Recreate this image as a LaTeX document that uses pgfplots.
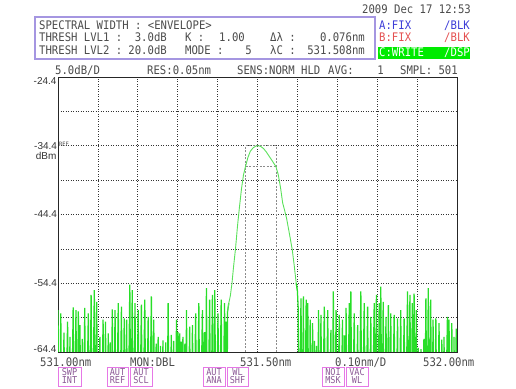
\documentclass[border=0pt]{standalone}
\usepackage{pgfplots}
\pgfplotsset{compat=1.18}
\usepackage{fontspec}
\setmainfont{DejaVu Sans Mono}
\newfontfamily\mono[FakeStretch=0.9]{DejaVu Sans Mono}
\newfontfamily\lab{Liberation Sans}
\definecolor{trace}{RGB}{40,222,40}
\definecolor{peakc}{RGB}{90,225,90}
\definecolor{boxc}{RGB}{165,150,225}
\definecolor{txt}{RGB}{75,75,75}
\definecolor{bluec}{RGB}{60,60,215}
\definecolor{redc}{RGB}{228,80,80}
\definecolor{greenbar}{RGB}{0,235,0}
\definecolor{btnc}{RGB}{230,120,230}
\definecolor{btntext}{RGB}{140,90,150}
\newcommand\hdr{\fontsize{11.8}{12}\selectfont\mono}
\newcommand\labf{\fontsize{10}{10}\selectfont\lab}
\newcommand\btnf{\fontsize{9.5}{9.5}\selectfont\mono}
\newcommand\btn[4]{%
  \draw[btnc, line width=0.9pt, fill=white] (#1,2) rectangle (#2,21);
  \node[font=\btnf, text=btntext, anchor=base, inner sep=0pt] at ({(#1+#2)/2},13) {#3};
  \node[font=\btnf, text=btntext, anchor=base, inner sep=0pt] at ({(#1+#2)/2},4.5) {#4};}
\begin{document}
\begin{tikzpicture}[x=1pt,y=1pt]
\useasboundingbox (0,0) rectangle (516,388);
\begin{axis}[
  at={(58pt,36pt)}, anchor=south west,
  width=399pt, height=275pt, scale only axis,
  xmin=531, xmax=532, ymin=-64.4, ymax=-24.4,
  xtick={531.1,531.2,531.3,531.4,531.5,531.6,531.7,531.8,531.9},
  xticklabels={},
  ytick={-64.4,-59.4,-54.4,-49.4,-44.4,-39.4,-34.4,-29.4,-24.4},
  yticklabels={,,-54.4,,-44.4,,-34.4,,},
  yticklabel style={font=\labf, text=black!80, inner sep=0.8pt},
  major tick length=0pt,
  grid=major,
  major grid style={black!80, line width=0.7pt, dash pattern=on 0.8pt off 1.7pt},
  axis line style={black!85, line width=0.8pt},
  clip=true,
]
% marker lines (-3 dB envelope)
\addplot[black!45, line width=0.7pt, dash pattern=on 2pt off 1.5pt] coordinates {
  (531.470,-64.4) (531.470,-34.4) (531.546,-34.4) (531.546,-64.4)};
\addplot[black!45, line width=0.7pt, dash pattern=on 2pt off 1.5pt] coordinates {
  (531.470,-37.4) (531.546,-37.4)};
% trace C: noise, left part
\addplot[trace, line width=1.25pt] coordinates {
(531.000,-58.3) (531.003,-80) (531.007,-58.8) (531.010,-80) (531.015,-61.6) (531.018,-80)
(531.024,-60.0) (531.027,-80) (531.030,-62.2) (531.033,-80) (531.038,-57.9) (531.041,-80)
(531.045,-58.3) (531.048,-80) (531.051,-58.5) (531.053,-80) (531.055,-60.5) (531.058,-80)
(531.061,-62.5) (531.064,-80) (531.067,-58.0) (531.070,-80) (531.076,-58.8) (531.079,-80)
(531.083,-56.1) (531.086,-80) (531.091,-55.4) (531.094,-80) (531.097,-57.1) (531.100,-80)
(531.105,-62.2) (531.108,-80) (531.113,-59.7) (531.116,-80) (531.119,-60.0) (531.122,-80)
(531.126,-61.7) (531.129,-80) (531.131,-63.0) (531.133,-80) (531.136,-58.2) (531.139,-80)
(531.143,-58.3) (531.146,-80) (531.151,-57.3) (531.154,-80) (531.159,-57.8) (531.162,-80)
(531.166,-59.5) (531.169,-80) (531.172,-59.7) (531.175,-80) (531.180,-54.6) (531.183,-80)
(531.186,-55.4) (531.189,-80) (531.193,-57.3) (531.196,-80) (531.201,-58.3) (531.204,-80)
(531.209,-57.5) (531.212,-80) (531.2175,-56.8) (531.221,-80) (531.226,-59.3) (531.229,-80)
(531.234,-56.3) (531.237,-80) (531.240,-59.7) (531.243,-80) (531.246,-63.2) (531.248,-80)
(531.251,-62.2) (531.254,-80) (531.257,-63.5) (531.260,-80) (531.263,-62.7) (531.266,-80)
(531.270,-63.0) (531.273,-80) (531.276,-57.3) (531.279,-80) (531.284,-61.9) (531.287,-80)
(531.290,-62.8) (531.293,-80) (531.297,-59.7) (531.299,-80) (531.301,-61.5) (531.303,-80)
(531.305,-61.7) (531.307,-80) (531.309,-62.9) (531.311,-80) (531.313,-62.2) (531.315,-80)
(531.318,-63.2) (531.320,-80) (531.322,-58.3) (531.325,-80) (531.330,-60.7) (531.333,-80)
(531.337,-60.5) (531.340,-80) (531.345,-58.8) (531.348,-80) (531.353,-57.3) (531.356,-80)
(531.362,-58.3) (531.365,-80) (531.367,-61.5) (531.369,-80) (531.372,-55.1) (531.375,-80)
(531.380,-56.8) (531.383,-80) (531.387,-56.1) (531.390,-80) (531.393,-55.4) (531.396,-80)
(531.401,-58.8) (531.404,-80) (531.409,-56.8) (531.412,-80) (531.4175,-57.3) (531.419,-80)
(531.421,-60.0) (531.423,-80) (531.425,-58.5) (531.428,-57.3)
};
% trace C: signal peak
\addplot[peakc, line width=0.9pt] coordinates {
(531.425,-58.5) (531.428,-57.3) (531.432,-56.2) (531.436,-54.4) (531.440,-52.0)
(531.445,-49.3) (531.450,-46.0) (531.455,-43.2) (531.460,-40.6) (531.465,-38.6)
(531.470,-37.4) (531.476,-36.1) (531.482,-35.2) (531.489,-34.7) (531.496,-34.45)
(531.502,-34.4) (531.508,-34.5) (531.515,-34.8) (531.522,-35.3) (531.530,-36.0)
(531.538,-36.7) (531.546,-37.4) (531.552,-38.6) (531.558,-40.6) (531.563,-42.7)
(531.568,-43.8) (531.573,-45.0) (531.580,-47.2) (531.587,-49.5) (531.592,-51.8)
(531.597,-54.4) (531.600,-55.5)
};
% trace C: noise, right part
\addplot[trace, line width=1.25pt] coordinates {
(531.597,-54.4) (531.600,-55.5) (531.602,-58.0) (531.604,-80)
(531.609,-56.6) (531.612,-80) (531.615,-56.3) (531.618,-80) (531.622,-56.8) (531.624,-80)
(531.626,-57.3) (531.629,-80) (531.632,-59.7) (531.635,-80) (531.638,-60.2) (531.641,-80)
(531.643,-62.8) (531.645,-80) (531.648,-63.5) (531.650,-80) (531.653,-58.3) (531.656,-80)
(531.659,-59.0) (531.662,-80) (531.6675,-57.8) (531.671,-80) (531.676,-58.3) (531.679,-80)
(531.684,-61.2) (531.687,-80) (531.690,-55.6) (531.693,-80) (531.697,-58.3) (531.700,-80)
(531.705,-59.0) (531.708,-80) (531.713,-59.7) (531.716,-80) (531.718,-62.0) (531.720,-80)
(531.722,-58.0) (531.725,-80) (531.730,-57.3) (531.732,-80) (531.734,-55.6) (531.737,-80)
(531.7425,-58.8) (531.746,-80) (531.751,-60.5) (531.754,-80) (531.759,-55.6) (531.762,-80)
(531.7675,-57.3) (531.771,-80) (531.776,-57.8) (531.779,-80) (531.784,-59.3) (531.787,-80)
(531.7925,-57.3) (531.795,-80) (531.798,-56.1) (531.801,-80) (531.805,-57.3) (531.807,-80)
(531.809,-54.9) (531.812,-80) (531.815,-57.1) (531.818,-80) (531.822,-59.3) (531.825,-80)
(531.828,-57.6) (531.831,-80) (531.834,-58.8) (531.837,-80) (531.8425,-59.0) (531.846,-80)
(531.851,-59.5) (531.854,-80) (531.859,-58.3) (531.862,-80) (531.8675,-59.5) (531.871,-80)
(531.876,-55.6) (531.879,-80) (531.882,-56.1) (531.885,-80) (531.888,-57.3) (531.890,-80)
(531.8925,-55.9) (531.895,-80) (531.898,-58.3) (531.900,-80) (531.903,-63.8) (531.906,-80)
(531.910,-64.0) (531.913,-80) (531.917,-62.5) (531.919,-80) (531.922,-56.6) (531.925,-80)
(531.928,-55.1) (531.931,-80) (531.934,-56.8) (531.937,-80) (531.940,-59.7) (531.943,-80)
(531.947,-59.5) (531.950,-80) (531.955,-60.2) (531.958,-80) (531.962,-62.6) (531.964,-80)
(531.9675,-62.2) (531.970,-80) (531.976,-59.3) (531.978,-80) (531.980,-59.7) (531.983,-80)
(531.987,-60.2) (531.990,-80) (531.9925,-62.2) (531.995,-80) (531.998,-61.0) (532.000,-80)
};
\end{axis}
% y-axis extras
\node[font=\labf, text=black!80, anchor=east, inner sep=0.8pt] at (57.5,307) {-24.4};
\node[font=\labf, text=black!80, anchor=east, inner sep=0.8pt] at (57.5,39) {-64.4};
\node[font=\labf, text=black!80, anchor=east, inner sep=0.8pt] at (57.5,232) {dBm};
\node[font=\fontsize{6}{6}\selectfont\mono, text=black!70, anchor=west, inner sep=0pt] at (59,244) {REF};
% date
\node[font=\hdr, text=txt, anchor=base west, inner sep=0pt] at (362,374) {2009 Dec 17 12:53};
% parameter box
\draw[boxc, line width=1.2pt] (35,329) rectangle (375,371);
\node[font=\hdr, text=txt, anchor=base west, inner sep=0pt] at (39,358.7) {SPECTRAL WIDTH : <ENVELOPE>};
\node[font=\hdr, text=txt, anchor=base west, inner sep=0pt] at (39,346.3) {THRESH LVL1 :};
\node[font=\hdr, text=txt, anchor=base east, inner sep=0pt] at (167,346.3) {3.0dB};
\node[font=\hdr, text=txt, anchor=base west, inner sep=0pt] at (185,346.3) {K :};
\node[font=\hdr, text=txt, anchor=base east, inner sep=0pt] at (245,346.3) {1.00};
\node[font=\hdr, text=txt, anchor=base west, inner sep=0pt] at (270,346.3) {Δλ :};
\node[font=\hdr, text=txt, anchor=base east, inner sep=0pt] at (365,346.3) {0.076nm};
\node[font=\hdr, text=txt, anchor=base west, inner sep=0pt] at (39,333.8) {THRESH LVL2 :};
\node[font=\hdr, text=txt, anchor=base east, inner sep=0pt] at (167,333.8) {20.0dB};
\node[font=\hdr, text=txt, anchor=base west, inner sep=0pt] at (185,333.8) {MODE :};
\node[font=\hdr, text=txt, anchor=base east, inner sep=0pt] at (252,333.8) {5};
\node[font=\hdr, text=txt, anchor=base west, inner sep=0pt] at (270,333.8) {λC :};
\node[font=\hdr, text=txt, anchor=base east, inner sep=0pt] at (365,333.8) {531.508nm};
% trace status
\node[font=\hdr, text=bluec, anchor=base west, inner sep=0pt] at (379,358.7) {A:FIX};
\node[font=\hdr, text=bluec, anchor=base east, inner sep=0pt] at (470,358.7) {/BLK};
\node[font=\hdr, text=redc, anchor=base west, inner sep=0pt] at (379,346.3) {B:FIX};
\node[font=\hdr, text=redc, anchor=base east, inner sep=0pt] at (470,346.3) {/BLK};
\fill[greenbar] (378,328.7) rectangle (470,341.3);
\node[font=\hdr, text=white, anchor=base west, inner sep=0pt] at (379,331) {C:WRITE};
\node[font=\hdr, text=white, anchor=base east, inner sep=0pt] at (470,331) {/DSP};
% header row
\node[font=\hdr, text=txt, anchor=base west, inner sep=0pt] at (55,313) {5.0dB/D};
\node[font=\hdr, text=txt, anchor=base west, inner sep=0pt] at (147,313) {RES:0.05nm};
\node[font=\hdr, text=txt, anchor=base west, inner sep=0pt] at (237,313) {SENS:NORM HLD};
\node[font=\hdr, text=txt, anchor=base west, inner sep=0pt] at (328,313) {AVG:};
\node[font=\hdr, text=txt, anchor=base east, inner sep=0pt] at (384,313) {1};
\node[font=\hdr, text=txt, anchor=base west, inner sep=0pt] at (400,313) {SMPL: 501};
% bottom row
\node[font=\hdr, text=txt, anchor=base west, inner sep=0pt] at (40,22) {531.00nm};
\node[font=\hdr, text=txt, anchor=base west, inner sep=0pt] at (130,22) {MON:DBL};
\node[font=\hdr, text=txt, anchor=base west, inner sep=0pt] at (240,22) {531.50nm};
\node[font=\hdr, text=txt, anchor=base west, inner sep=0pt] at (335,22) {0.10nm/D};
\node[font=\hdr, text=txt, anchor=base west, inner sep=0pt] at (423,22) {532.00nm};
% soft keys
\btn{58}{81}{SWP}{INT}
\btn{107}{128}{AUT}{REF}
\btn{130}{152}{AUT}{SCL}
\btn{203}{225}{AUT}{ANA}
\btn{227}{248}{WL}{SHF}
\btn{322}{344}{NOI}{MSK}
\btn{346}{368}{VAC}{WL}
\end{tikzpicture}
\end{document}
